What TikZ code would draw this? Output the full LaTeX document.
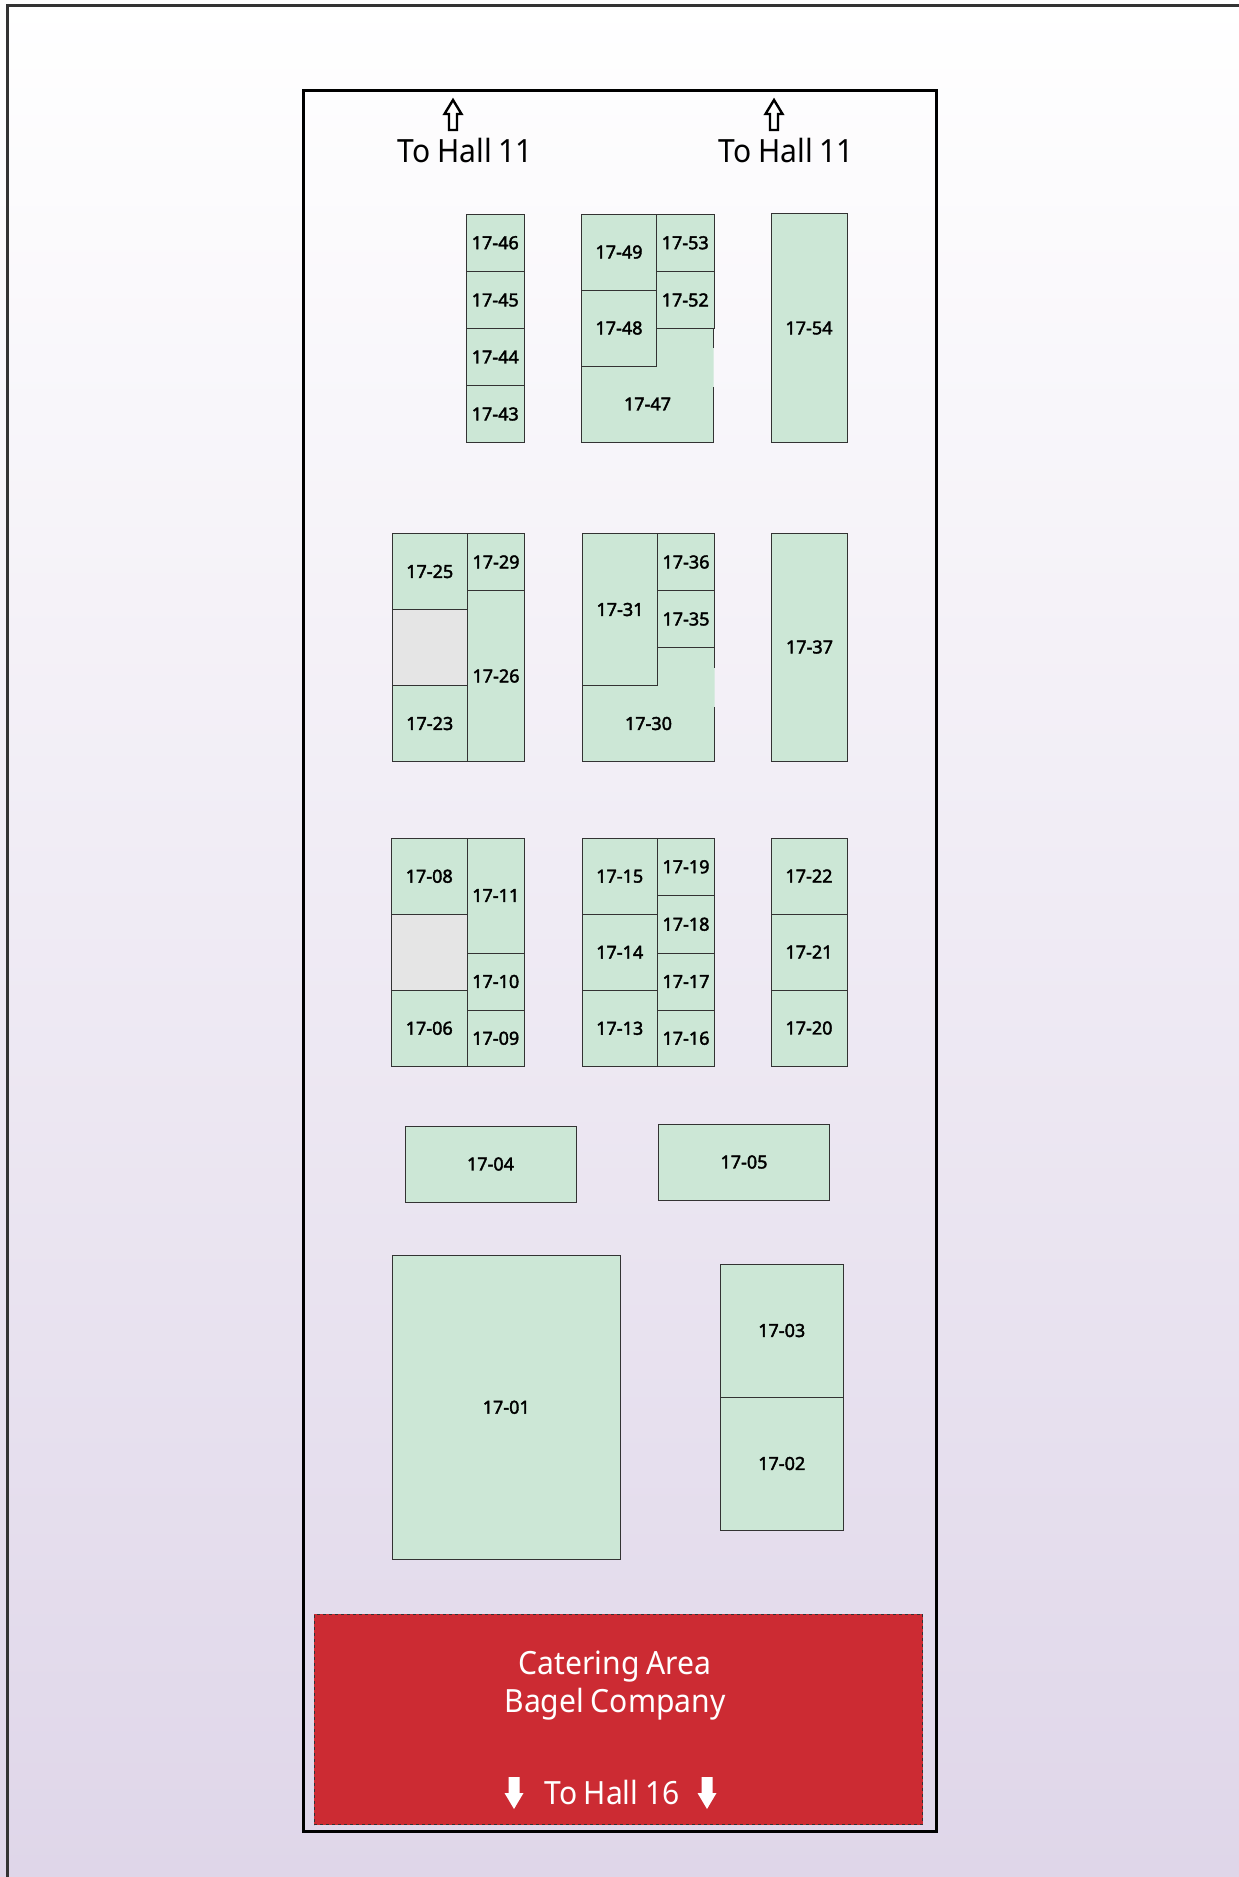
\documentclass[tikz,border=0pt]{standalone}
\usepackage{fontspec}
\setmainfont[FakeStretch=0.94,WordSpace=0.85]{Noto Sans}
\newfontfamily\boothfont[FakeBold=2.2]{Noto Sans}
\usetikzlibrary{positioning}
\definecolor{boothgreen}{HTML}{CCE7D6}
\definecolor{emptygrey}{HTML}{E5E5E5}
\definecolor{cateringred}{HTML}{CC2B33}
\definecolor{bgmiddle}{HTML}{EFEBF6}
\definecolor{bgbottom}{HTML}{DFD6E9}
\tikzstyle{booth}=[draw=black!80,line width=1pt,fill=boothgreen,inner sep=0pt,outer sep=0pt,anchor=north west,font=\boothfont\fontsize{18}{20}\selectfont]
\tikzstyle{emptybooth}=[booth,fill=emptygrey]
\tikzstyle{hallframe}=[draw=black,line width=3pt,inner sep=0pt,outer sep=0pt,anchor=north west]
\tikzstyle{hallsign}=[inner sep=0pt,font=\fontsize{32}{38.5}\selectfont,align=center]
\tikzstyle{uparrow}=[draw=black,line width=2.4pt,fill=white,miter limit=4]

\begin{document}
\begin{tikzpicture}[x=1pt,y=-1pt]
    \useasboundingbox (0,0) rectangle (1239,1877);
    % fond
    \shade[top color=white,middle color=bgmiddle,bottom color=bgbottom] (0,0) rectangle (1239,1877);
    \draw[black!80,line width=3pt] (7,1877) -- (7,5) -- (1239,5);
    \node[hallframe,minimum width=633pt,minimum height=1741pt] (hall) at (303.5,90) {};
    % stands
    \foreach \x/\y/\w/\h/\name in {
        466.5/214/57.5/57.5/17-46, 466.5/271.5/57.5/57/17-45, 466.5/328.5/57.5/57/17-44, 466.5/385.5/57.5/57/17-43,
        581.5/214/75/76/17-49, 581.5/290/75/76/17-48, 656.5/214/57.5/57.5/17-53, 656.5/271.5/57.5/57/17-52,
        771/213.5/76/229/17-54,
        392/533.5/75.5/76/17-25, 392/685.5/75.5/76/17-23, 467.5/533.5/57/57/17-29, 467.5/590.5/57/171/17-26,
        582.5/533.5/75/152/17-31, 657.5/533.5/57/57/17-36, 657.5/590.5/57/57/17-35,
        771.5/533/76/228/17-37,
        391.5/838/75.5/76.5/17-08, 391.5/990/75.5/76.5/17-06, 467/838/57.5/115/17-11, 467/953/57.5/57/17-10, 467/1010/57.5/56.5/17-09,
        582/838/75.5/76.5/17-15, 582/914.5/75.5/75.5/17-14, 582/990/75.5/76.5/17-13,
        657.5/838/57/57.5/17-19, 657.5/895.5/57/57.5/17-18, 657.5/953/57/57/17-17, 657.5/1010/57/56.5/17-16,
        771/838/76/76/17-22, 771/914/76/76/17-21, 771/990/76/76/17-20,
        405/1126/171/76/17-04, 658.5/1124/171/76/17-05,
        392/1255.5/228.5/303.5/17-01, 720/1264/123.5/133/17-03, 720/1397/123.5/133/17-02}
        \node[booth,minimum width=\w pt,minimum height=\h pt] (\name) at (\x,\y) {\name};
    % emplacements vides
    \node[emptybooth,minimum width=75.5pt,minimum height=76pt] (empty1) at (392,609.5) {};
    \node[emptybooth,minimum width=75.5pt,minimum height=75.5pt] (empty2) at (391.5,914.5) {};
    % stands en L
    \foreach \x/\y/\name in {581.5/366/17-47, 582.5/685.5/17-30} {
        \fill[boothgreen] (\x,\y) -- ++(75,0) -- ++(0,-38) -- ++(57,0) -- ++(0,114) -- ++(-132,0) -- cycle;
        \draw[black!80,line width=1pt] (\x+132,\y-18) -- ++(0,-20) -- ++(-57,0) -- ++(0,38) -- ++(-75,0) -- ++(0,76) -- ++(132,0) -- ++(0,-55);
        \node[booth,draw=none,fill=none,anchor=center] (\name) at (\x+66,\y+38) {\name};
    }
    % restauration
    \node[booth,draw=black!80,dashed,line width=.8pt,fill=cateringred,minimum width=608.5pt,minimum height=210.5pt] (catering) at (314,1614) {};
    \node[hallsign,text=white] (cateringtext) at (615,1685.5) {Catering Area\\Bagel Company};
    \node[hallsign,text=white] (hall16) at (612,1792.5) {To Hall 16};
    % fleches
    \foreach \x in {514,707}
        \fill[white] (\x-5.5,1777) -- (\x+5.5,1777) -- (\x+5.5,1793) -- (\x+9.5,1793) -- (\x,1809) -- (\x-9.5,1793) -- (\x-5.5,1793) -- cycle;
    \foreach \x/\name in {453/hallA,774/hallB} {
        \draw[uparrow] (\x-4,130) -- (\x+4,130) -- (\x+4,114) -- (\x+8.5,114) -- (\x,100) -- (\x-8.5,114) -- (\x-4,114) -- cycle;
        \node[hallsign] (\name) at (\x+12.5,150.5) {To Hall 11};
    }
\end{tikzpicture}
\end{document}
